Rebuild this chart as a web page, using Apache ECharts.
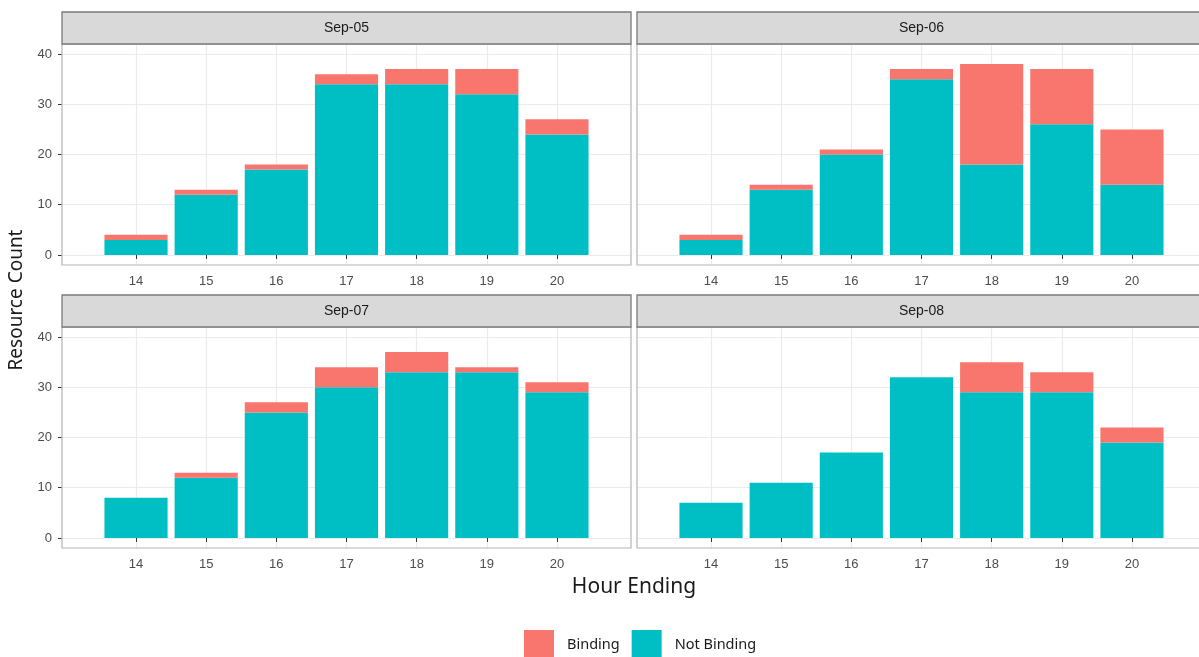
<!DOCTYPE html>
<html>
<head>
<meta charset="utf-8">
<script src="https://cdn.jsdelivr.net/npm/echarts@6/dist/echarts.min.js"></script>
<style>
  html, body { margin: 0; padding: 0; background: #ffffff; }
  #chart { width: 1199px; height: 657px; }
</style>
</head>
<body>
<div id="chart"></div>
<script>
// ---- data ----
const hours = [14, 15, 16, 17, 18, 19, 20];
const panels = ['Sep-05', 'Sep-06', 'Sep-07', 'Sep-08'];
const yTicks = [0, 10, 20, 30, 40];
const notBinding05 = [3, 12, 17, 34, 34, 32, 24];
const binding05    = [1, 1, 1, 2, 3, 5, 3];
const notBinding06 = [3, 13, 20, 35, 18, 26, 14];
const binding06    = [1, 1, 1, 2, 20, 11, 11];
const notBinding07 = [8, 12, 25, 30, 33, 33, 29];
const binding07    = [0, 1, 2, 4, 4, 1, 2];
const notBinding08 = [7, 11, 17, 32, 29, 29, 19];
const binding08    = [0, 0, 0, 0, 6, 4, 3];
const notBindingAll = [notBinding05, notBinding06, notBinding07, notBinding08];
const bindingAll = [binding05, binding06, binding07, binding08];
const seriesNames = ['Binding', 'Not Binding'];

// ---- layout ----
const colors = { 'Binding': '#F8766D', 'Not Binding': '#00BFC4' };
const canvasW = 1199;
const panelW = 569, panelH = 221;
const lefts = [62, 637, 62, 637];
const tops = [44, 44, 327, 327];
const stripH = 32;
const xMin = 12.945, xMax = 21.055;
const pxPerUnit = panelW / (xMax - xMin);

const chart = echarts.init(document.getElementById('chart'), null, { renderer: 'canvas' });

const grids = [], xAxes = [], yAxes = [], series = [], graphics = [];
panels.forEach((p, i) => {
  // right-hand panels run past the picture edge; keep the same scale on the visible part
  const visW = Math.min(panelW, canvasW - lefts[i]);
  const visMax = xMin + visW / pxPerUnit;
  grids.push({
    left: lefts[i], top: tops[i], width: visW, height: panelH,
    show: false, containLabel: false
  });
  xAxes.push({
    type: 'value', gridIndex: i, min: xMin, max: visMax,
    axisLine: { show: false },
    axisTick: { show: true, customValues: hours, length: 4, lineStyle: { color: '#333333', width: 1 } },
    axisLabel: { customValues: hours, color: '#4D4D4D', fontSize: 13, margin: 10, fontFamily: 'Liberation Sans' },
    splitLine: { show: true, lineStyle: { color: '#EBEBEB', width: 1.2 } }
  });
  yAxes.push({
    type: 'value', gridIndex: i, min: -2, max: 42,
    axisLine: { show: false },
    axisTick: { show: i % 2 === 0, customValues: yTicks, length: 4, lineStyle: { color: '#333333', width: 1 } },
    axisLabel: { show: i % 2 === 0, customValues: yTicks, color: '#4D4D4D', fontSize: 13, margin: 10, fontFamily: 'Liberation Sans' },
    splitLine: { show: true, lineStyle: { color: '#EBEBEB', width: 1.2 } }
  });
  // data rows are [count, hour]; encode maps them so the count dimension is the stacked one
  series.push({
    name: 'Not Binding', type: 'bar', xAxisIndex: i, yAxisIndex: i, stack: p,
    barWidth: '90%', itemStyle: { color: colors['Not Binding'] },
    encode: { x: 1, y: 0 },
    data: hours.map((h, k) => [notBindingAll[i][k], h])
  });
  series.push({
    name: 'Binding', type: 'bar', xAxisIndex: i, yAxisIndex: i, stack: p,
    barWidth: '90%', itemStyle: { color: colors['Binding'] },
    encode: { x: 1, y: 0 },
    data: hours.map((h, k) => [bindingAll[i][k], h])
  });
  // panel border
  graphics.push({
    type: 'rect',
    shape: { x: lefts[i], y: tops[i], width: panelW, height: panelH },
    style: { fill: null, stroke: '#b5b5b5', lineWidth: 1.2 },
    silent: true, z: 10
  });
  // facet strip
  graphics.push({
    type: 'rect',
    shape: { x: lefts[i], y: tops[i] - stripH, width: panelW, height: stripH },
    style: { fill: '#D9D9D9', stroke: '#7a7a7a', lineWidth: 1.3 },
    z: 10
  });
  graphics.push({
    type: 'text',
    style: {
      text: p, x: lefts[i] + panelW / 2, y: tops[i] - stripH / 2,
      textAlign: 'center', textVerticalAlign: 'middle',
      fill: '#1A1A1A', fontSize: 14, fontFamily: 'Liberation Sans'
    },
    z: 11
  });
});

graphics.push({
  type: 'text',
  style: {
    text: 'Hour Ending', x: 634, y: 587, textAlign: 'center', textVerticalAlign: 'middle',
    fill: '#1A1A1A', fontSize: 21, fontFamily: 'Noto Sans'
  }
});
graphics.push({
  type: 'text',
  rotation: Math.PI / 2,
  x: 17, y: 300,
  style: {
    text: 'Resource Count', x: 0, y: 0, textAlign: 'center', textVerticalAlign: 'middle',
    fill: '#1A1A1A', fontSize: 19, fontFamily: 'Noto Sans'
  }
});

chart.setOption({
  animation: false,
  backgroundColor: '#ffffff',
  grid: grids,
  xAxis: xAxes,
  yAxis: yAxes,
  series: series,
  legend: {
    data: seriesNames,
    left: 519, top: 625,
    orient: 'horizontal',
    icon: 'rect',
    itemWidth: 30, itemHeight: 30, itemGap: 12,
    selectedMode: false,
    textStyle: { color: '#1A1A1A', fontSize: 14.5, fontFamily: 'Noto Sans', padding: [0, 0, 0, 8] }
  },
  graphic: graphics
});
</script>
</body>
</html>
